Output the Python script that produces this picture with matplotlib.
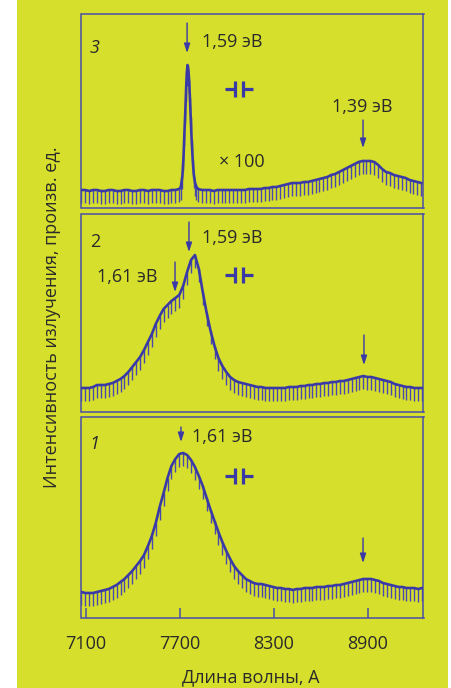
import numpy as np
import matplotlib
matplotlib.use("Agg")
import matplotlib.pyplot as plt
from matplotlib.patches import Rectangle

plt.rcParams['font.family'] = ['Open Sans', 'DejaVu Sans']

# ---------------- data ----------------
xticks = [7100, 7700, 8300, 8900]
xlabel = "Длина волны, А"
ylabel = "Интенсивность излучения, произв. ед."

wl = np.arange(7070, 9246, 25)   # common wavelength grid, A

I1 = [26, 25, 25, 25, 26, 27, 28, 29,
      31, 33, 36, 39, 43, 47, 52, 57,
      63, 72, 82, 95, 111, 125, 140, 152,
      159, 164, 165, 163, 158, 151, 142, 132,
      120, 108, 97, 86, 76, 67, 59, 52,
      47, 43, 39, 37, 35, 34, 34, 33,
      32, 31, 30, 30, 29, 29, 28, 29,
      29, 30, 30, 30, 31, 31, 31, 32,
      32, 33, 33, 34, 35, 36, 37, 38,
      39, 39, 39, 38, 37, 35, 34, 33,
      32, 31, 31, 30, 30, 30, 29, 30]

I2 = [24, 24, 24, 25, 27, 27, 27, 28,
      29, 31, 33, 36, 40, 45, 50, 55,
      62, 70, 78, 88, 96, 103, 107, 111,
      114, 117, 126, 140, 152, 157, 143, 120,
      99, 81, 66, 54, 46, 40, 35, 32,
      30, 29, 28, 27, 26, 25, 25, 24,
      24, 24, 24, 24, 24, 25, 25, 25,
      26, 26, 27, 27, 28, 28, 29, 29,
      30, 30, 31, 31, 32, 33, 34, 35,
      36, 35, 35, 34, 33, 32, 31, 30,
      28, 27, 26, 25, 25, 24, 24, 24]

wl3 = [7070, 7095, 7120, 7145, 7170, 7195, 7220, 7245, 7270, 7295, 7320, 7345, 7370,
       7395, 7420, 7445, 7470, 7495, 7520, 7545, 7570, 7595, 7620, 7645, 7670, 7695,
       7705, 7715, 7722, 7728, 7734, 7739, 7743, 7748, 7753, 7758, 7763, 7768, 7774,
       7781, 7788, 7796, 7805, 7815,
       7840, 7865, 7890, 7915, 7940, 7965, 7990, 8015, 8040, 8065,
       8090, 8115, 8140, 8165, 8190, 8215, 8240, 8265, 8290, 8315,
       8340, 8365, 8390, 8415, 8440, 8465, 8490, 8515, 8540, 8565,
       8590, 8615, 8640, 8665, 8690, 8715, 8740, 8765, 8790, 8815,
       8840, 8865, 8890, 8915, 8940, 8965, 8990, 9015, 9040, 9065,
       9090, 9115, 9140, 9165, 9190, 9215, 9240]
I3 = [18, 18, 17, 18, 18, 17, 17, 18, 18, 17, 17, 18, 18,
      17, 17, 18, 18, 17, 18, 18, 18, 17, 17, 18, 18, 19,
      21, 32, 50, 75, 98, 120, 135, 143, 138, 128, 110, 91, 68,
      48, 33, 25, 21, 19,
      18, 18, 18, 17, 18, 18, 18, 18, 18, 18,
      18, 18, 19, 19, 19, 19, 20, 20, 21, 21,
      22, 23, 24, 25, 25, 25, 26, 26, 27, 28,
      29, 30, 31, 33, 34, 36, 38, 40, 42, 44,
      46, 47, 47, 47, 46, 43, 39, 36, 35, 33,
      32, 31, 30, 28, 27, 26, 25]

# ---------------- style ----------------
W, H = 452, 688
BG = '#d6df2c'
LINE = '#3a3aa6'
HLINE = '#4848b0'
FRAME = '#4a4ea8'
TXT = '#2a2a2a'
FS = 13
HATCH = 13

fig = plt.figure(figsize=(W / 100, H / 100), dpi=100)
fig.patch.set_facecolor('white')
fig.patches.append(Rectangle((17 / W, 0), (448 - 17) / W, 1, transform=fig.transFigure,
                             facecolor=BG, edgecolor='none', zorder=-10))


def make_ax(top, bottom, left=81.5, right=423.5):
    ax = fig.add_axes([left / W, 1 - bottom / H, (right - left) / W, (bottom - top) / H])
    ax.set_facecolor('none')
    ax.set_xlim(7071, 9254)
    ax.set_ylim(0, bottom - top)
    for s in ax.spines.values():
        s.set_color(FRAME)
        s.set_linewidth(1.1)
    ax.set_yticks([])
    return ax


def draw(ax, x, y):
    y = np.asarray(y, float)
    ax.vlines(x, y - HATCH, y, color=HLINE, lw=1.0, zorder=2)
    ax.plot(x, y, color=LINE, lw=1.9, solid_joinstyle='round', zorder=3)


def arrow(ax, x, y0, y1):
    ax.annotate('', xy=(x, y1), xytext=(x, y0),
                arrowprops=dict(arrowstyle='-|>,head_length=0.55,head_width=0.18',
                                color=LINE, lw=1.0, shrinkA=0, shrinkB=0))


def capacitor(ax, xc, yc):
    px = 6.383  # A per pixel
    lw = 2.3
    ax.plot([xc - 14 * px, xc - 4 * px], [yc, yc], color=LINE, lw=lw, solid_capstyle='butt')
    ax.plot([xc + 4 * px, xc + 14 * px], [yc, yc], color=LINE, lw=lw, solid_capstyle='butt')
    ax.plot([xc - 4 * px, xc - 4 * px], [yc - 8, yc + 8], color=LINE, lw=lw, solid_capstyle='butt')
    ax.plot([xc + 4 * px, xc + 4 * px], [yc - 8, yc + 8], color=LINE, lw=lw, solid_capstyle='butt')


# panel 3 (top)
ax3 = make_ax(14, 208)
ax3.set_xticks([])
draw(ax3, wl3, I3)
ax3.text(7120, 160, '3', fontsize=FS, style='italic', color=TXT, va='center')
arrow(ax3, 7745, 185, 155)
ax3.text(7840, 166, '1,59 эВ', fontsize=FS, color=TXT, va='center')
capacitor(ax3, 8077, 119)
ax3.text(8862, 101, '1,39 эВ', fontsize=FS, color=TXT, va='center', ha='center')
arrow(ax3, 8868, 88, 60)
ax3.text(7949, 46, '× 100', fontsize=FS, color=TXT, va='center')

# panel 2
ax2 = make_ax(214, 412)
ax2.set_xticks([])
draw(ax2, wl, I2)
ax2.text(7125, 170, '2', fontsize=FS, color=TXT, va='center')
arrow(ax2, 7757, 190, 160)
ax2.text(7840, 174, '1,59 эВ', fontsize=FS, color=TXT, va='center')
arrow(ax2, 7668, 150, 120)
ax2.text(7170, 135, '1,61 эВ', fontsize=FS, color=TXT, va='center')
capacitor(ax2, 8077, 137)
arrow(ax2, 8874, 77, 47)

# panel 1 (bottom)
ax1 = make_ax(417, 618)
draw(ax1, wl, I1)
ax1.text(7120, 174, '1', fontsize=FS, style='italic', color=TXT, va='center')
arrow(ax1, 7706, 191, 176)
ax1.text(7777, 181, '1,61 эВ', fontsize=FS, color=TXT, va='center')
capacitor(ax1, 8077, 142)
arrow(ax1, 8868, 80, 55)
ax1.set_xticks(xticks)
ax1.set_xticklabels([str(t) for t in xticks])
ax1.tick_params(axis='x', direction='in', length=7, width=1.1, color=FRAME,
                labelsize=FS, labelcolor=TXT, pad=12)

fig.text(251 / W, 1 - 677 / H, xlabel, fontsize=FS, color=TXT, ha='center', va='center')
fig.text(52 / W, 1 - 317 / H, ylabel, fontsize=FS, color=TXT, ha='center', va='center',
         rotation=90)

fig.savefig('out.png', dpi=100, facecolor='white')
